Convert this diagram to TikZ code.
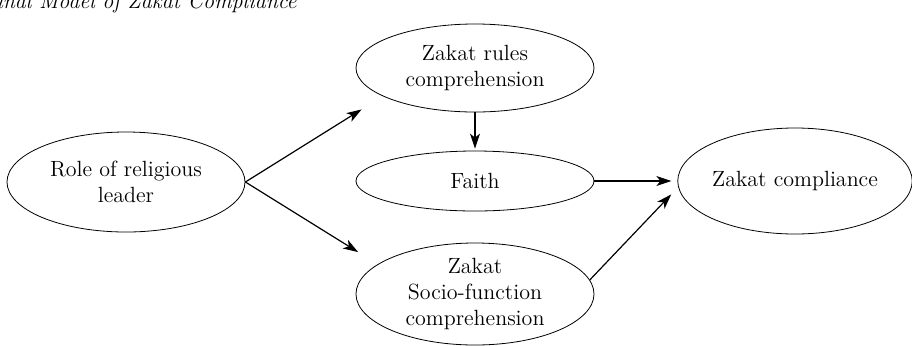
\documentclass[tikz,border=0pt]{standalone}
\usetikzlibrary{shapes.geometric,arrows.meta}
\begin{document}
\begin{tikzpicture}[
  x=0.5pt, y=-0.5pt,
  every node/.style={draw, ellipse, align=center, inner sep=0pt, font=\fontsize{11}{13}\selectfont},
  arrow/.style={-{Stealth[length=7.5pt,width=5pt,inset=2pt]}, line width=0.6pt}
]
\useasboundingbox (0,0) rectangle (912,345);
\node[draw=none, rectangle, anchor=base east, font=\fontsize{11}{13}\selectfont\itshape] (title) at (297,8) {Final Model of Zakat Compliance};
\node[minimum width=119pt, minimum height=50pt] (role) at (126,182) {Role of religious\\leader};
\node[minimum width=119pt, minimum height=44pt] (rules) at (475,68) {Zakat rules\\comprehension};
\node[minimum width=119pt, minimum height=30pt] (faith) at (475,181) {Faith};
\node[minimum width=119pt, minimum height=51pt] (socio) at (475,294) {Zakat\\Socio-function\\comprehension};
\node[minimum width=117pt, minimum height=53pt] (comp) at (795,181) {Zakat compliance};
\draw[arrow, shorten >=12.5pt] (role.east) -- (rules.197);
\draw[arrow, shorten >=11.5pt] (role.east) -- (socio.163);
\draw[arrow, shorten >=1pt] (rules.south) -- (faith.north);
\draw[arrow, shorten >=3pt] (faith.east) -- (comp.west);
\draw[arrow, shorten >=5pt] (socio.7) -- (comp.183);
\end{tikzpicture}
\end{document}
